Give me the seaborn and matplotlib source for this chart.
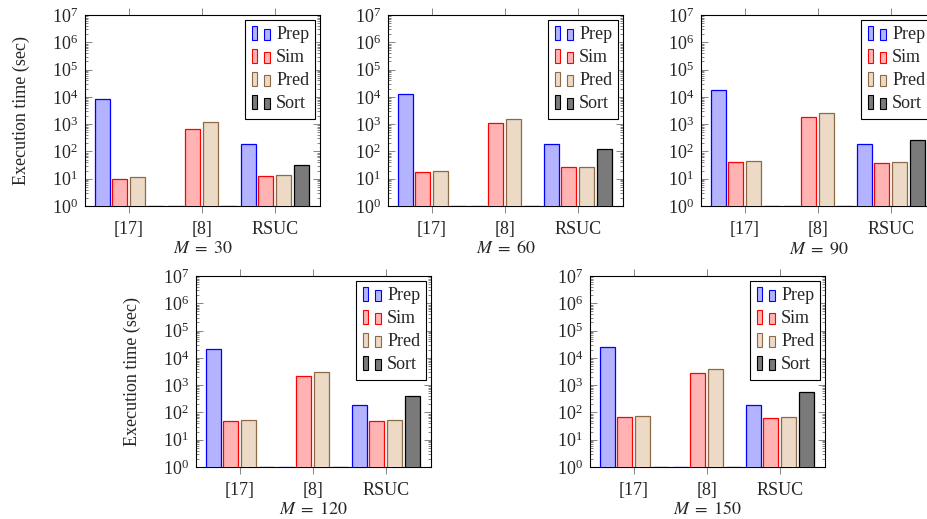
import numpy as np
import pandas as pd
import matplotlib
matplotlib.use('Agg')
import matplotlib.pyplot as plt
from matplotlib.patches import Patch, Rectangle
from matplotlib.legend_handler import HandlerBase
import seaborn as sns

# ── Data (execution time in seconds, 0 = not applicable) ──
methods    = ['[17]', '[8]', 'RSUC']
components = ['Prep', 'Sim', 'Pred', 'Sort']
m_values   = [30, 60, 90, 120, 150]

prep_times = [[8500, 0, 182], [12300, 0, 187], [17400, 0, 182], [20500, 0, 182], [25000, 0, 187]]
sim_times  = [[9.8, 662, 12.9], [17, 1070, 26], [40, 1780, 36.6], [50, 2100, 48], [68, 2870, 62]]
pred_times = [[11.2, 1170, 13.3], [19.7, 1550, 26], [43, 2560, 40], [54, 3020, 51], [72, 4000, 68]]
sort_times = [[0, 0, 31], [0, 0, 126], [0, 0, 270], [0, 0, 388], [0, 0, 575]]

fill_colors = ['#B3B3FF', '#FFB3B3', '#ECD9C6', '#7A7A7A']
edge_colors = ['#0000FF', '#FF0000', '#8C6A46', '#000000']

# ── Style ──
FS = 13
sns.set_style('ticks')
plt.rcParams['font.family'] = 'serif'
plt.rcParams['font.serif'] = ['Liberation Serif', 'DejaVu Serif']
plt.rcParams['mathtext.fontset'] = 'stix'
plt.rcParams['font.size'] = FS

rows = []
for i, m in enumerate(m_values):
    for comp, table in zip(components, [prep_times, sim_times, pred_times, sort_times]):
        for meth, val in zip(methods, table[i]):
            rows.append({'M': m, 'method': meth, 'component': comp, 'time': val})
df = pd.DataFrame(rows)
# zero entries sit on the bottom of the log axis
df['time'] = df['time'].clip(lower=1)


class TwoBarHandler(HandlerBase):
    """Legend icon with two small bars, like pgfplots ybar legend."""
    def create_artists(self, legend, orig_handle, xdescent, ydescent,
                       width, height, fontsize, trans):
        fc = orig_handle.get_facecolor()
        ec = orig_handle.get_edgecolor()
        bw = width * 0.3
        x0, y0 = -xdescent, -ydescent
        r1 = Rectangle((x0, y0), bw, height, facecolor=fc, edgecolor=ec,
                       linewidth=0.8, transform=trans)
        r2 = Rectangle((x0 + width - bw, y0), bw, height * 0.78, facecolor=fc,
                       edgecolor=ec, linewidth=0.8, transform=trans)
        return [r1, r2]


# ── Layout: axes positions in pixels (left, top) ──
W, H = 928, 519
ax_w, ax_h = 235, 191
positions = [(85, 15), (388, 15), (701, 15), (196, 276), (590, 276)]

fig = plt.figure(figsize=(W / 100, H / 100), dpi=100)

for i, (m, (px, py)) in enumerate(zip(m_values, positions)):
    ax = fig.add_axes([px / W, 1 - (py + ax_h) / H, ax_w / W, ax_h / H])
    sub = df[df['M'] == m]
    sns.barplot(data=sub, x='method', y='time', hue='component',
                order=methods, hue_order=components, palette=fill_colors,
                saturation=1, width=0.97, gap=0.15, linewidth=0.9,
                legend=False, ax=ax)
    for cont, ec in zip(ax.containers, edge_colors):
        for bar in cont:
            bar.set_edgecolor(ec)
            bar.set_zorder(3)

    ax.set_yscale('log')
    ax.set_ylim(1, 1e7)
    ax.set_xlim(-0.6, 2.62)
    ax.yaxis.set_major_locator(matplotlib.ticker.LogLocator(base=10, numticks=10))
    ax.yaxis.set_minor_locator(matplotlib.ticker.LogLocator(base=10, subs=np.arange(2, 10), numticks=10))
    ax.yaxis.set_minor_formatter(matplotlib.ticker.NullFormatter())

    ax.tick_params(axis='y', which='both', direction='in', left=True, right=True,
                   color='0.45', width=0.6, pad=5, labelsize=FS)
    ax.tick_params(axis='y', which='major', length=5)
    ax.tick_params(axis='y', which='minor', length=2.5)
    ax.tick_params(axis='x', which='major', direction='out', top=True, bottom=True,
                   length=5, color='0.45', width=0.6, pad=6, labelsize=FS)
    ax.tick_params(axis='x', which='minor', bottom=False, top=False)

    for sp in ax.spines.values():
        sp.set_visible(True)
        sp.set_color('black')
        sp.set_linewidth(0.8)

    ax.set_xlabel(r'$M\;=\;' + f'{m}$', fontsize=FS, labelpad=1.5)
    if i in (0, 3):
        ax.set_ylabel('Execution time (sec)', fontsize=FS, labelpad=16)
    else:
        ax.set_ylabel('')

    handles = [Patch(facecolor=fc, edgecolor=ec, label=c)
               for c, fc, ec in zip(components, fill_colors, edge_colors)]
    leg = ax.legend(handles=handles, loc='upper right', fontsize=FS,
                    handler_map={Patch: TwoBarHandler()},
                    handlelength=1.0, handleheight=0.8, handletextpad=0.35,
                    labelspacing=0.33, borderpad=0.35, borderaxespad=0.25,
                    fancybox=False, framealpha=1, edgecolor='black')
    leg.get_frame().set_linewidth(0.8)
    leg.set_zorder(5)

fig.savefig('out.png', dpi=100)
